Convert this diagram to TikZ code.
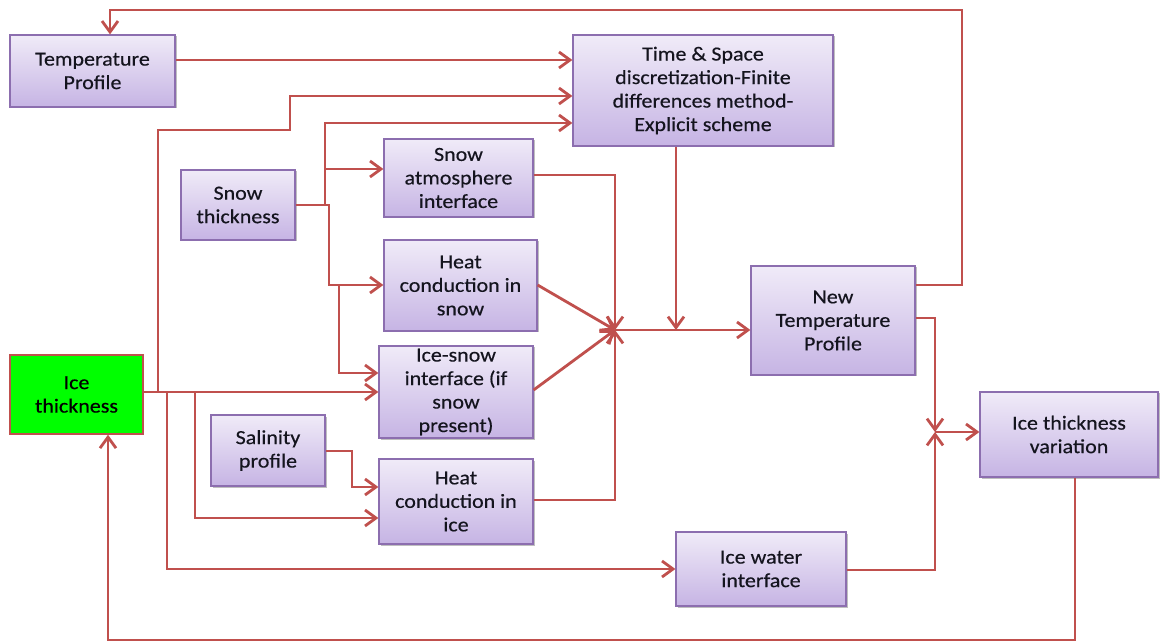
\documentclass[tikz,border=0pt]{standalone}
\usepackage{fontspec}
\setmainfont[FakeStretch=1.1,FakeBold=0.4]{Carlito}
\usetikzlibrary{arrows.meta,shadows}
\definecolor{lnred}{HTML}{C0504D}
\definecolor{boxtop}{RGB}{240,235,248}
\definecolor{boxbot}{RGB}{198,180,228}
\definecolor{boxedge}{RGB}{140,110,175}
\definecolor{txt}{RGB}{20,20,30}
\tikzset{
  pbox/.style={draw=boxedge, line width=1.2pt, top color=boxtop, bottom color=boxbot,
    align=center, inner sep=0pt, text=txt,
    font=\fontsize{20}{23.5}\selectfont,
    drop shadow={shadow xshift=1.5pt, shadow yshift=-1.5pt, opacity=0.25, fill=black}},
  gbox/.style={draw=lnred, line width=1.5pt, fill=green, align=center, inner sep=0pt,
    text=black, font=\fontsize{20}{23.5}\selectfont},
  arr/.style={draw=lnred, line width=2.8pt, -{Straight Barb[length=11pt,width=16pt]}},
  ln/.style={draw=lnred, line width=2.8pt}
}
\begin{document}
\begin{tikzpicture}[x=1pt,y=-1pt]
\useasboundingbox (0,0) rectangle (1160,644);
\fill[white] (0,0) rectangle (1160,644);

% nodes
\node[pbox, minimum width=165pt, minimum height=72pt] (TP) at (92.5,71) {Temperature\\Profile};
\node[pbox, minimum width=260pt, minimum height=111pt] (TS) at (703,90.5) {Time \& Space\\discretization-Finite\\differences method-\\Explicit scheme};
\node[pbox, minimum width=114pt, minimum height=70pt] (ST) at (238,205) {Snow\\thickness};
\node[pbox, minimum width=149pt, minimum height=78pt] (SAI) at (458.5,178) {Snow\\atmosphere\\interface};
\node[pbox, minimum width=153pt, minimum height=91pt] (HCS) at (460.5,285.5) {Heat\\conduction in\\snow};
\node[pbox, minimum width=154pt, minimum height=92pt] (ISI) at (456,392) {Ice-snow\\interface (if\\snow\\present)};
\node[pbox, minimum width=114pt, minimum height=71pt] (SP) at (268,450.5) {Salinity\\profile};
\node[pbox, minimum width=154pt, minimum height=85pt] (HCI) at (456,501.5) {Heat\\conduction in\\ice};
\node[gbox, minimum width=133pt, minimum height=79pt] (IT) at (76.5,394.5) {Ice\\thickness};
\node[pbox, minimum width=164pt, minimum height=109pt] (NTP) at (833,320.5) {New\\Temperature\\Profile};
\node[pbox, minimum width=178pt, minimum height=85pt] (ITV) at (1069,434.5) {Ice thickness\\variation};
\node[pbox, minimum width=170pt, minimum height=74pt] (IWI) at (761,569) {Ice water\\interface};

\coordinate (J) at (615,330);
\coordinate (K) at (935,432);

% top feedback loop
\draw[arr] (NTP.east |- 0,285) -- (962,285) -- (962,10) -- (110,10) -- (TP.north -| 110,0);
% temperature profile to discretization
\draw[arr] (TP.east |- 0,60) -- (TS.west |- 0,60);
% ice thickness
\draw[arr] (IT.east |- 0,392) -- (ISI.west |- 0,392);
\draw[arr] (158,392) -- (158,130) -- (290,130) -- (290,96) -- (TS.west |- 0,96);
\draw[arr] (167,392) -- (167,569) -- (IWI.west |- 0,569);
\draw[arr] (195,392) -- (195,518) -- (HCI.west |- 0,518);
% snow thickness
\draw[arr] (ST.east |- 0,205) -- (325,205) -- (325,123) -- (TS.west |- 0,123);
\draw[arr] (325,169) -- (SAI.west |- 0,169);
\draw[arr] (ST.east |- 0,205) -- (329,205) -- (329,285) -- (HCS.west |- 0,285);
\draw[arr] (329,285) -- (339,285) -- (339,373) -- (ISI.west |- 0,373);
% salinity
\draw[arr] (SP.east |- 0,451) -- (352,451) -- (352,487) -- (HCI.west |- 0,487);
% to junction
\draw[arr] (SAI.east |- 0,175) -- (615,175) -- (J);
\draw[arr] (HCS.east |- 0,285) -- (J);
\draw[arr] (ISI.east |- 0,390) -- (J);
\draw[arr] (HCI.east |- 0,500) -- (615,500) -- (J);
\draw[arr] (J) -- (NTP.west |- J);
\draw[arr] (TS.south -| 676,0) -- (676,330);
% to ice thickness variation
\draw[arr] (NTP.east |- 0,318) -- (935,318) -- (K);
\draw[arr] (IWI.east |- 0,570) -- (935,570) -- (K);
\draw[arr] (K) -- (ITV.west |- K);
% bottom feedback loop
\draw[arr] (ITV.south -| 1075,0) -- (1075,640) -- (108,640) -- (IT.south -| 108,0);
\end{tikzpicture}
\end{document}
